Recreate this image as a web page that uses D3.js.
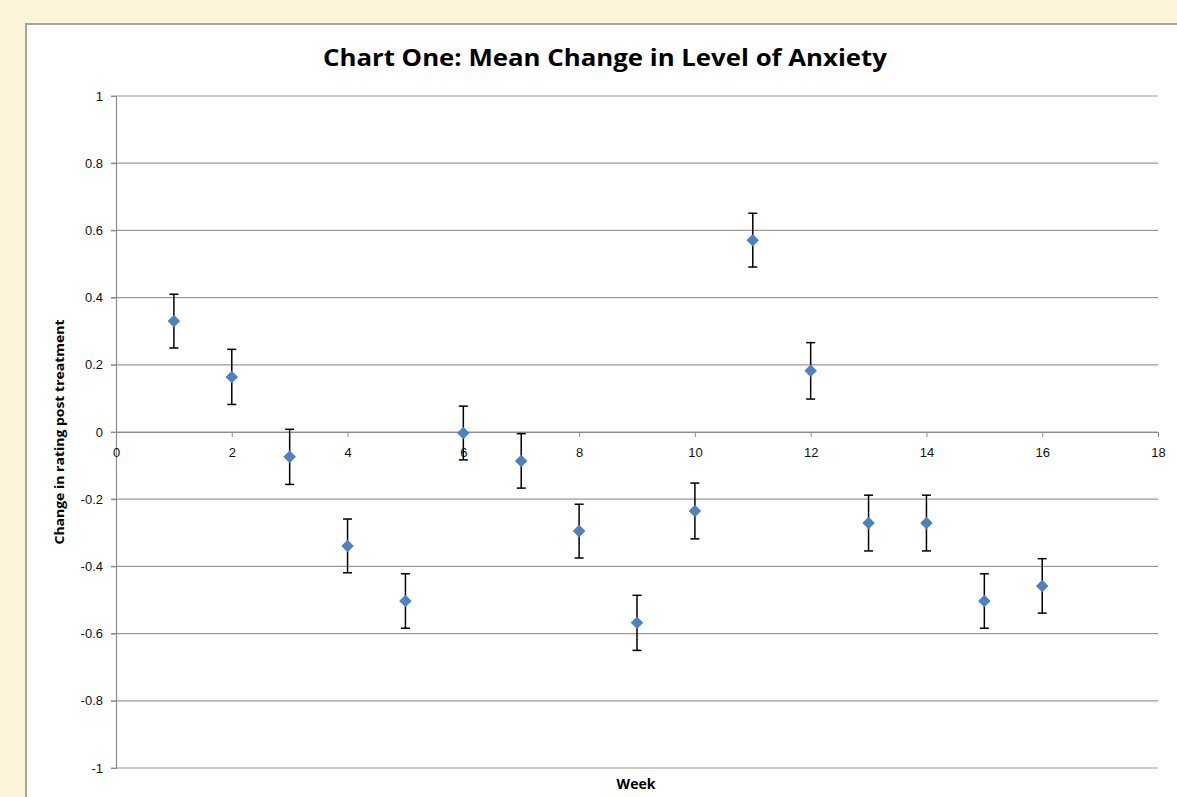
<!DOCTYPE html>
<html>
<head>
<meta charset="utf-8">
<script src="https://cdn.jsdelivr.net/npm/d3@7"></script>
<style>
  body { margin: 0; background: #fcf5da; }
  #chart { position: absolute; left: 0; top: 0; }
</style>
</head>
<body>
<div id="chart"></div>
<script>
const weeks = [1, 2, 3, 4, 5, 6, 7, 8, 9, 10, 11, 12, 13, 14, 15, 16];
const meanChange = [0.33, 0.164, -0.074, -0.339, -0.503, -0.003, -0.086, -0.295, -0.568, -0.235, 0.571, 0.182, -0.271, -0.271, -0.503, -0.458];
const errors = [0.08, 0.082, 0.082, 0.08, 0.081, 0.08, 0.081, 0.08, 0.082, 0.083, 0.08, 0.084, 0.083, 0.083, 0.081, 0.081];
const xTicks = [0, 2, 4, 6, 8, 10, 12, 14, 16, 18];
const yTicks = [-1, -0.8, -0.6, -0.4, -0.2, 0, 0.2, 0.4, 0.6, 0.8, 1];

const data = weeks.map((w, i) => ({ week: w, value: meanChange[i], err: errors[i] }));

const width = 1177;
const height = 797;
const margin = { top: 96, bottom: 29, left: 116, right: 19 };

const svg = d3.select('#chart')
  .append('svg')
  .attr('width', width)
  .attr('height', height);

// chart frame
svg.append('rect')
  .attr('x', 26)
  .attr('y', 24)
  .attr('width', 1200)
  .attr('height', 800)
  .attr('fill', 'white')
  .attr('stroke', '#a5a5a5')
  .attr('stroke-width', 2);

const x = d3.scaleLinear()
  .domain([0, 18])
  .range([margin.left, width - margin.right]);

const y = d3.scaleLinear()
  .domain([-1, 1])
  .range([height - margin.bottom, margin.top]);

// plain hyphen for negatives, like the original
const fmt = d => String(+d.toFixed(1));

// gridlines
svg.append('g')
  .selectAll('line')
  .data(yTicks)
  .enter()
  .append('line')
  .attr('x1', x(0) - 5)
  .attr('x2', x(18))
  .attr('y1', d => y(d))
  .attr('y2', d => y(d))
  .attr('stroke', '#9a9a9a')
  .attr('stroke-width', 1.2);

// y axis
svg.append('g')
  .attr('transform', `translate(${x(0)},0)`)
  .call(d3.axisLeft(y).tickValues(yTicks).tickSize(5).tickFormat(fmt))
  .call(g => g.select('.domain').attr('stroke', '#8c8c8c').attr('stroke-width', 1.2))
  .call(g => g.selectAll('.tick line').attr('stroke', '#8c8c8c'))
  .call(g => g.selectAll('text')
    .attr('x', -13)
    .attr('font-family', 'Liberation Sans, Arial, sans-serif')
    .attr('font-size', '13px')
    .attr('fill', '#111'));

// x axis across zero
svg.append('g')
  .attr('transform', `translate(0,${y(0)})`)
  .call(d3.axisBottom(x).tickValues(xTicks).tickSize(5).tickSizeOuter(0).tickFormat(fmt))
  .call(g => g.select('.domain').attr('stroke', '#8c8c8c').attr('stroke-width', 1.2))
  .call(g => g.selectAll('.tick line').attr('stroke', '#8c8c8c'))
  .call(g => g.selectAll('text')
    .attr('y', 16)
    .attr('font-family', 'Liberation Sans, Arial, sans-serif')
    .attr('font-size', '13px')
    .attr('fill', '#111'));

// error bars
const eb = svg.append('g')
  .selectAll('g')
  .data(data)
  .enter()
  .append('g')
  .attr('stroke', '#000')
  .attr('stroke-width', 1.5);

eb.append('line')
  .attr('x1', d => x(d.week))
  .attr('x2', d => x(d.week))
  .attr('y1', d => y(d.value + d.err))
  .attr('y2', d => y(d.value - d.err));

eb.append('line')
  .attr('x1', d => x(d.week) - 4.5)
  .attr('x2', d => x(d.week) + 4.5)
  .attr('y1', d => y(d.value + d.err))
  .attr('y2', d => y(d.value + d.err));

eb.append('line')
  .attr('x1', d => x(d.week) - 4.5)
  .attr('x2', d => x(d.week) + 4.5)
  .attr('y1', d => y(d.value - d.err))
  .attr('y2', d => y(d.value - d.err));

// markers
svg.append('g')
  .selectAll('path')
  .data(data)
  .enter()
  .append('path')
  .attr('transform', d => `translate(${x(d.week)},${y(d.value)})`)
  .attr('d', d3.symbol(d3.symbolDiamond2, 100))
  .attr('fill', '#4f81bd');

// title
svg.append('text')
  .attr('x', 605)
  .attr('y', 66)
  .attr('text-anchor', 'middle')
  .attr('font-family', 'Open Sans, Liberation Sans, sans-serif')
  .attr('font-weight', 'bold')
  .attr('font-size', '24px')
  .attr('textLength', 564)
  .attr('lengthAdjust', 'spacingAndGlyphs')
  .attr('fill', '#000')
  .text('Chart One: Mean Change in Level of Anxiety');

// axis titles
svg.append('text')
  .attr('transform', `translate(64,${y(0)}) rotate(-90)`)
  .attr('text-anchor', 'middle')
  .attr('font-family', 'Open Sans, Liberation Sans, sans-serif')
  .attr('font-weight', 'bold')
  .attr('font-size', '13px')
  .attr('textLength', 225)
  .attr('lengthAdjust', 'spacingAndGlyphs')
  .attr('fill', '#000')
  .text('Change in rating post treatment');

svg.append('text')
  .attr('x', 636)
  .attr('y', 789)
  .attr('text-anchor', 'middle')
  .attr('font-family', 'Open Sans, Liberation Sans, sans-serif')
  .attr('font-weight', 'bold')
  .attr('font-size', '14px')
  .attr('fill', '#000')
  .text('Week');
</script>
</body>
</html>
